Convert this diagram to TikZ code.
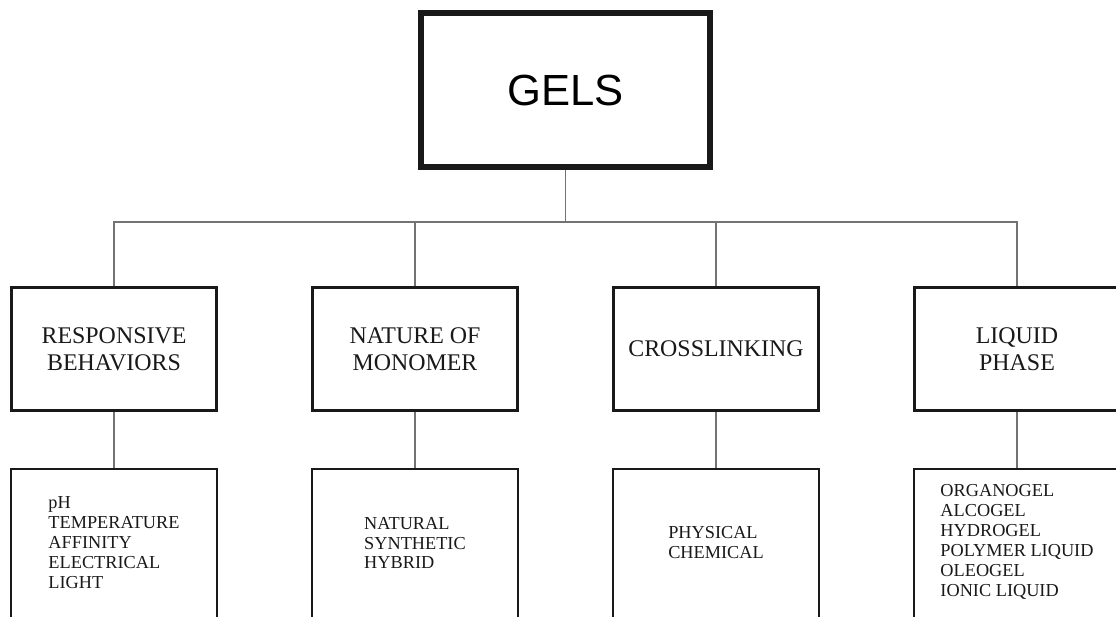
\documentclass[tikz,border=0pt]{standalone}
\usepackage{fontspec}
\setmainfont{Liberation Serif}
\setsansfont{Liberation Sans}

\tikzset{
  topbox/.style={draw=black!90, line width=4.2pt, minimum width=7.225cm,
    minimum height=3.85cm, inner sep=0pt, font=\sffamily\fontsize{31}{36}\selectfont},
  catbox/.style={draw=black!90, line width=2.1pt, minimum width=5.125cm,
    minimum height=3.075cm, inner sep=0pt, align=center,
    text=black!90, font=\fontsize{17}{19}\selectfont},
  listbox/.style={draw=black!90, line width=1.4pt, minimum width=5.15cm,
    minimum height=4.5cm, anchor=north},
  listtext/.style={align=left, inner sep=0pt, text=black!90,
    font=\fontsize{13}{14.2}\selectfont},
  link/.style={draw=black!55, line width=0.8pt}
}

\begin{document}
\begin{tikzpicture}[x=0.025cm, y=-0.025cm]
\useasboundingbox (0,0) rectangle (1116,617);
\clip (0,0) rectangle (1116,617);

% top
\node[topbox] (gels) at (565.5,90) {GELS};
\coordinate (bus) at (565.5,222);

% categories
\node[catbox] (resp) at (114,349) {RESPONSIVE\\BEHAVIORS};
\node[catbox] (nat) at (415,349) {NATURE OF\\MONOMER};
\node[catbox] (cross) at (716,349) {CROSSLINKING};
\node[catbox] (liq) at (1017,349) {LIQUID\\PHASE};

% lists
\node[listbox] (resplist) at (114,468) {};
\node[listbox] (natlist) at (415,468) {};
\node[listbox] (crosslist) at (716,468) {};
\node[listbox] (liqlist) at (1017,468) {};

\node[listtext] (resptxt) at (114,543) {pH\\TEMPERATURE\\AFFINITY\\ELECTRICAL\\LIGHT};
\node[listtext] (nattxt) at (415,543) {NATURAL\\SYNTHETIC\\HYBRID};
\node[listtext] (crosstxt) at (716,543) {PHYSICAL\\CHEMICAL};
\node[listtext] (liqtxt) at (1017,542) {ORGANOGEL\\ALCOGEL\\HYDROGEL\\POLYMER LIQUID\\OLEOGEL\\IONIC LIQUID};

% connectors
\draw[link] (gels.south) -- (bus);
\draw[link] (resp.north) |- (bus) -| (liq.north);
\draw[link] (nat.north) -- (nat.north |- bus);
\draw[link] (cross.north) -- (cross.north |- bus);
\draw[link] (resp.south) -- (resplist.north);
\draw[link] (nat.south) -- (natlist.north);
\draw[link] (cross.south) -- (crosslist.north);
\draw[link] (liq.south) -- (liqlist.north);
\end{tikzpicture}
\end{document}
